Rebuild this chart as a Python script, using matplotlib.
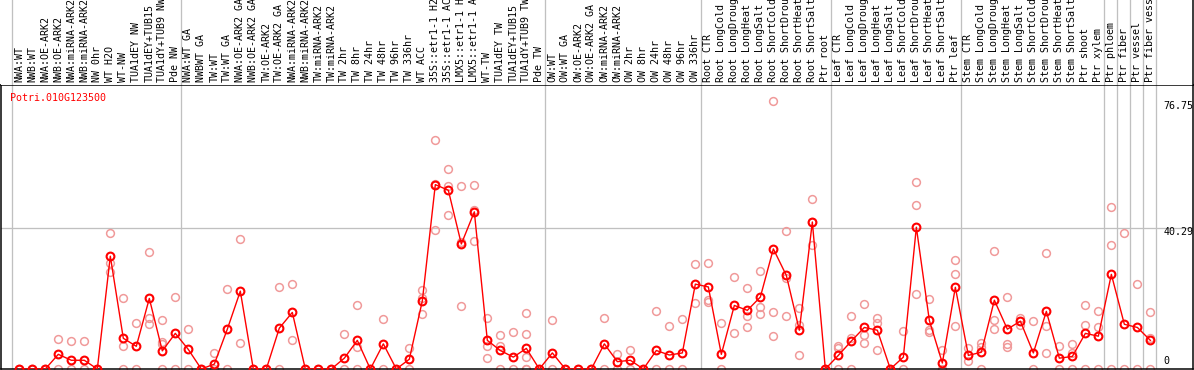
import matplotlib
matplotlib.use('Agg')
import matplotlib.pyplot as plt
from matplotlib.transforms import blended_transform_factory, offset_copy

# ---------------- data ----------------
gene_id = "Potri.010G123500"

labels = [
    "NWA:WT", "NWB:WT", "NWA:OE-ARK2", "NWB:OE-ARK2", "NWA:miRNA-ARK2", "NWB:miRNA-ARK2",
    "NW 0hr", "WT H2O", "WT-NW", "TUA1dEY NW", "TUA1dEY+TUB15", "TUA1dY+TUB9 NW", "Pde NW",
    "NWA:WT GA", "NWBWT GA", "TW:WT", "TW:WT GA", "NWA:OE-ARK2 GA", "NWB:OE-ARK2 GA",
    "TW:OE-ARK2", "TW:OE-ARK2 GA", "NWA:miRNA-ARK2", "NWB:miRNA-ARK2", "TW:miRNA-ARK2",
    "TW:miRNA-ARK2", "TW 2hr", "TW 8hr", "TW 24hr", "TW 48hr", "TW 96hr", "TW 336hr",
    "WT ACC", "35S::etr1-1 H2", "35S::etr1-1 AC", "LMX5::etr1-1 H", "LMX5::etr1-1 A",
    "WT-TW", "TUA1dEY TW", "TUA1dEY+TUB15", "TUA1dY+TUB9 TW", "Pde TW",
    "OW:WT", "OW:WT GA", "OW:OE-ARK2", "OW:OE-ARK2 GA", "OW:miRNA-ARK2", "OW:miRNA-ARK2",
    "OW 2hr", "OW 8hr", "OW 24hr", "OW 48hr", "OW 96hr", "OW 336hr",
    "Root CTR", "Root LongCold", "Root LongDroug", "Root LongHeat", "Root LongSalt",
    "Root ShortCold", "Root ShortDrou", "Root ShortHeat", "Root ShortSalt", "Ptr root",
    "Leaf CTR", "Leaf LongCold", "Leaf LongDroug", "Leaf LongHeat", "Leaf LongSalt",
    "Leaf ShortCold", "Leaf ShortDrou", "Leaf ShortHeat", "Leaf ShortSalt", "Ptr leaf",
    "Stem CTR", "Stem LongCold", "Stem LongDroug", "Stem LongHeat", "Stem LongSalt",
    "Stem ShortCold", "Stem ShortDrou", "Stem ShortHeat", "Stem ShortSalt",
    "Ptr shoot", "Ptr xylem", "Ptr phloem", "Ptr fiber", "Ptr vessel", "Ptr fiber vess",
]

means = [
    0, 0, 0, 4.2, 2.5, 2.5, 0, 32.3, 8.8, 6.5, 20.2, 5.2, 10.2,
    5.6, 0, 1.4, 11.4, 22.3, 0, 0, 11.7, 16.2, 0, 0, 0, 3.1, 8.2, 0, 7.2, 0, 2.8,
    19.5, 52.8, 51.2, 35.8, 45.0, 8.2, 5.3, 3.4, 5.9, 0,
    4.6, 0, 0, 0, 7.2, 2.1, 2.5, 0, 5.3, 4.0, 4.6, 24.3,
    23.5, 4.2, 18.2, 16.8, 20.6, 34.4, 26.8, 11.1, 42.1, 0,
    3.9, 8.0, 11.9, 11.1, 0, 3.4, 40.6, 13.9, 1.7, 23.4,
    3.9, 4.8, 19.7, 11.4, 13.7, 4.6, 16.5, 3.1, 3.6,
    10.2, 9.4, 27.1, 12.8, 11.9, 8.2,
]

replicates = [
    [0, 0], [0, 0], [0, 0], [8.5, 0], [8.0, 0], [8.0, 0], [0, 0],
    [38.9, 30.4, 27.7], [20.2, 6.5, 0], [13.1, 0], [33.4, 14.5, 12.8],
    [13.9, 7.8, 7.1, 0], [20.6, 0],
    [11.4, 0], [0, 0], [4.5, 0], [22.9, 0], [37.1, 7.4], [0], [0], [23.5, 0],
    [24.3, 8.2], [0], [0], [0], [9.9, 0], [18.2, 6.4, 0], [0], [14.2, 0], [0],
    [5.9, 0], [22.5, 20.2, 15.7], [65.5, 53.1, 39.7], [57.2, 52.5, 44.0],
    [52.3, 36.5, 18.0], [52.7, 45.4, 36.6], [14.5, 6.7, 3.1], [9.7, 6.7, 0],
    [10.5, 0], [15.9, 9.9, 3.5, 0, 0], [0],
    [13.9, 0], [0], [0], [0], [14.6, 0], [4.2, 0], [5.3, 0], [0], [16.5, 0],
    [12.3, 0], [14.2, 0], [30.0, 18.8],
    [30.3, 19.8, 19.3], [13.1, 0], [26.3, 10.2], [23.1, 15.1, 11.9],
    [28.1, 17.7, 15.7], [76.75, 16.2, 9.4], [39.4, 26.0, 15.1], [17.4, 12.6, 3.9],
    [48.6, 42.1, 35.5], [0],
    [6.5, 5.9, 0], [15.1, 9.0, 0], [18.5, 9.6, 7.4], [14.7, 13.1, 5.3], [0],
    [10.8, 0], [53.5, 46.9, 21.4], [20.0, 11.2, 10.5], [5.3, 0], [31.1, 27.1, 12.2],
    [5.9, 2.2], [7.4, 6.4, 0], [33.7, 13.9, 11.4], [20.5, 7.1, 6.4], [14.5, 12.7],
    [13.7, 0], [33.1, 12.2, 4.6], [6.5, 0], [7.1, 4.5, 0],
    [18.2, 12.5, 0], [16.5, 11.9, 0], [46.3, 35.4, 0], [38.9, 0], [24.3, 0],
    [16.2, 8.8, 0],
]

# index of the last sample in each group (grey separators after them)
group_ends = [-1, 12, 40, 52, 62, 72, 83, 84, 85, 86, 87]
ytick_values = [76.75, 40.29, 0]

# ---------------- figure ----------------
W, H = 1194, 370
fig = plt.figure(figsize=(W / 100, H / 100), dpi=100)


def px_rect(x0, y0, x1, y1):
    return [x0 / W, 1 - y1 / H, (x1 - x0) / W, (y1 - y0) / H]


ax = fig.add_axes(px_rect(1, 85, 1193, 369))
hax = fig.add_axes(px_rect(1, 0, 1193, 85))

xs = list(range(len(labels)))
xlim = (-1.408, 90.28)
ylim = (0, 81.33)
mono = "DejaVu Sans Mono"
grey = "#c0c0c0"
pink = "#f09a9a"
px = 72 / 100  # one pixel in points

for a in (ax, hax):
    a.set_xlim(*xlim)
    a.set_xticks([])
    a.set_yticks([])
    a.set_facecolor("white")
    for b in group_ends:
        a.axvline(b + 0.4, color=grey, lw=1.3 * px, zorder=0)

ax.set_ylim(*ylim)
hax.set_ylim(0, 1)
for s in ax.spines.values():
    s.set_color("black")
    s.set_linewidth(1.5 * px)
for k in ("left", "top", "bottom"):
    hax.spines[k].set_visible(False)
hax.spines["right"].set_color("black")
hax.spines["right"].set_linewidth(1.5 * px)

ax.axhline(ytick_values[1], color=grey, lw=1.3 * px, zorder=0)

# replicate points
rx, ry = [], []
for i, reps in enumerate(replicates):
    for v in reps:
        rx.append(i)
        ry.append(v)
ax.plot(rx, ry, linestyle="none", marker="o", ms=5.6, mfc="none", mec=pink,
        mew=1.1, zorder=2)

# mean line + markers
ax.plot(xs, means, color="red", lw=1.0, zorder=3)
ax.plot(xs, means, linestyle="none", marker="o", ms=5.6, mfc="none", mec="red",
        mew=1.5, zorder=4)

# header labels
htrans = blended_transform_factory(hax.transData, hax.transAxes)
for i, lab in enumerate(labels):
    hax.text(i, 0.03, lab, rotation=90, ha="center", va="bottom",
             family=mono, fontsize=7.2, color="black", transform=htrans,
             clip_on=False)

# gene id
ax.text(-0.7, 0.955, gene_id, transform=blended_transform_factory(ax.transData, ax.transAxes),
        family=mono, fontsize=7.2, color="red", ha="left", va="center")

# right-hand value labels
ylab_x = 87.98
offsets = [-5.5, -3.7, 7.5]
for v, off in zip(ytick_values, offsets):
    t = offset_copy(ax.transData, fig=fig, x=0, y=off, units="dots")
    ax.text(ylab_x, v, f"{v:g}" if v == 0 else f"{v:.2f}", transform=t,
            family=mono, fontsize=7.2, color="black", ha="left", va="center")

fig.savefig("out.png", dpi=100)
